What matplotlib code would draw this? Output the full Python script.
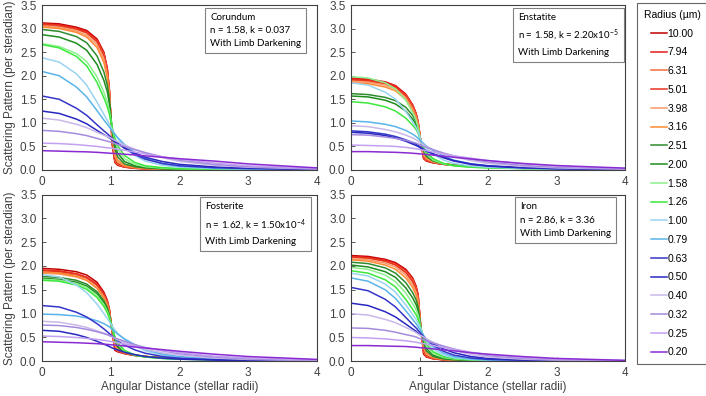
import matplotlib
matplotlib.use("Agg")
import matplotlib.pyplot as plt
from matplotlib.lines import Line2D

plt.rcParams['font.family'] = ['Liberation Sans', 'DejaVu Sans']
plt.rcParams['mathtext.default'] = 'regular'

# sample positions (stellar radii)
x = [0, 0.25, 0.5, 0.65, 0.8, 0.9, 0.95, 0.98, 1.02, 1.06, 1.1, 1.2, 1.35, 1.5, 1.75, 2.0, 2.5, 3.0, 4.0]

radii = ['10.00', '7.94', '6.31', '5.01', '3.98', '3.16', '2.51', '2.00', '1.58',
         '1.26', '1.00', '0.79', '0.63', '0.50', '0.40', '0.32', '0.25', '0.20']
colors = ['#C00000', '#E41A1C', '#F26D3D', '#E8321E', '#F79A6A', '#FF8A33',
          '#2E8B2E', '#1E8C1E', '#8CF08C', '#3CE83C', '#9AD4F0', '#5AB4EA',
          '#3535C8', '#2828C0', '#C9B8E8', '#A58BDD', '#C2A2F0', '#8A2BD2']

corundum = [
    [3.12, 3.10, 3.03, 2.96, 2.78, 2.50, 2.15, 1.70, 0.55, 0.16, 0.10, 0.06, 0.035, 0.025, 0.015, 0.01, 0.006, 0.004, 0.002],
    [3.10, 3.08, 3.01, 2.94, 2.76, 2.48, 2.14, 1.70, 0.58, 0.18, 0.11, 0.065, 0.038, 0.027, 0.016, 0.011, 0.007, 0.004, 0.002],
    [3.07, 3.05, 2.98, 2.91, 2.73, 2.45, 2.11, 1.68, 0.62, 0.20, 0.12, 0.07, 0.04, 0.028, 0.017, 0.012, 0.007, 0.004, 0.002],
    [3.10, 3.07, 3.00, 2.91, 2.72, 2.42, 2.08, 1.66, 0.66, 0.24, 0.14, 0.08, 0.045, 0.03, 0.018, 0.012, 0.007, 0.004, 0.002],
    [3.05, 3.02, 2.95, 2.86, 2.66, 2.36, 2.02, 1.62, 0.72, 0.30, 0.17, 0.09, 0.05, 0.033, 0.02, 0.013, 0.008, 0.005, 0.002],
    [3.03, 3.00, 2.92, 2.82, 2.60, 2.28, 1.95, 1.58, 0.78, 0.36, 0.21, 0.10, 0.055, 0.035, 0.021, 0.014, 0.008, 0.005, 0.002],
    [2.98, 2.94, 2.83, 2.70, 2.42, 2.08, 1.80, 1.50, 0.84, 0.45, 0.28, 0.13, 0.07, 0.045, 0.026, 0.017, 0.01, 0.006, 0.003],
    [2.87, 2.82, 2.69, 2.54, 2.24, 1.90, 1.66, 1.40, 0.88, 0.54, 0.36, 0.18, 0.09, 0.055, 0.03, 0.02, 0.011, 0.007, 0.003],
    [2.68, 2.62, 2.47, 2.30, 1.98, 1.65, 1.44, 1.26, 0.90, 0.63, 0.45, 0.24, 0.12, 0.07, 0.04, 0.025, 0.014, 0.008, 0.004],
    [2.66, 2.59, 2.41, 2.21, 1.86, 1.53, 1.34, 1.18, 0.90, 0.68, 0.52, 0.31, 0.16, 0.09, 0.05, 0.03, 0.016, 0.01, 0.004],
    [2.38, 2.29, 2.04, 1.80, 1.44, 1.18, 1.05, 0.97, 0.86, 0.76, 0.67, 0.49, 0.31, 0.19, 0.10, 0.06, 0.03, 0.018, 0.008],
    [2.09, 2.00, 1.76, 1.55, 1.26, 1.06, 0.97, 0.91, 0.83, 0.76, 0.69, 0.54, 0.37, 0.25, 0.13, 0.08, 0.04, 0.025, 0.01],
    [1.57, 1.50, 1.31, 1.16, 0.96, 0.83, 0.77, 0.73, 0.67, 0.62, 0.57, 0.46, 0.33, 0.23, 0.14, 0.09, 0.05, 0.03, 0.012],
    [1.25, 1.20, 1.08, 0.98, 0.84, 0.75, 0.71, 0.68, 0.64, 0.60, 0.56, 0.47, 0.36, 0.27, 0.18, 0.12, 0.065, 0.04, 0.015],
    [1.10, 1.06, 0.97, 0.90, 0.80, 0.74, 0.71, 0.69, 0.66, 0.63, 0.60, 0.53, 0.44, 0.36, 0.26, 0.18, 0.10, 0.06, 0.02],
    [0.84, 0.82, 0.77, 0.73, 0.67, 0.63, 0.61, 0.60, 0.58, 0.56, 0.54, 0.50, 0.43, 0.37, 0.28, 0.21, 0.12, 0.07, 0.03],
    [0.57, 0.56, 0.54, 0.52, 0.50, 0.48, 0.47, 0.47, 0.46, 0.45, 0.44, 0.42, 0.38, 0.34, 0.28, 0.23, 0.15, 0.09, 0.035],
    [0.41, 0.40, 0.39, 0.385, 0.375, 0.365, 0.36, 0.357, 0.353, 0.35, 0.345, 0.335, 0.32, 0.30, 0.27, 0.24, 0.19, 0.13, 0.045],
]

enstatite = [
    [1.93, 1.91, 1.86, 1.78, 1.60, 1.38, 1.20, 1.02, 0.60, 0.24, 0.19, 0.15, 0.12, 0.10, 0.08, 0.065, 0.045, 0.03, 0.012],
    [1.95, 1.93, 1.87, 1.79, 1.61, 1.38, 1.20, 1.02, 0.60, 0.25, 0.20, 0.155, 0.12, 0.10, 0.08, 0.065, 0.045, 0.03, 0.012],
    [1.90, 1.88, 1.83, 1.75, 1.58, 1.36, 1.18, 1.00, 0.60, 0.27, 0.21, 0.16, 0.125, 0.10, 0.08, 0.065, 0.045, 0.03, 0.012],
    [1.92, 1.90, 1.84, 1.76, 1.57, 1.34, 1.16, 0.98, 0.60, 0.29, 0.22, 0.165, 0.13, 0.105, 0.08, 0.065, 0.045, 0.03, 0.012],
    [1.88, 1.86, 1.80, 1.72, 1.53, 1.30, 1.13, 0.96, 0.60, 0.32, 0.24, 0.17, 0.13, 0.105, 0.08, 0.065, 0.045, 0.03, 0.012],
    [1.85, 1.83, 1.76, 1.68, 1.49, 1.26, 1.10, 0.93, 0.60, 0.36, 0.26, 0.18, 0.135, 0.11, 0.08, 0.065, 0.045, 0.03, 0.012],
    [1.62, 1.60, 1.54, 1.47, 1.33, 1.16, 1.02, 0.88, 0.60, 0.40, 0.29, 0.19, 0.13, 0.10, 0.075, 0.06, 0.04, 0.028, 0.011],
    [1.57, 1.55, 1.48, 1.40, 1.25, 1.08, 0.96, 0.84, 0.60, 0.43, 0.32, 0.20, 0.13, 0.10, 0.07, 0.055, 0.035, 0.025, 0.01],
    [1.98, 1.95, 1.85, 1.72, 1.48, 1.22, 1.06, 0.90, 0.60, 0.44, 0.34, 0.21, 0.13, 0.09, 0.06, 0.045, 0.03, 0.02, 0.008],
    [1.45, 1.42, 1.34, 1.25, 1.10, 0.95, 0.86, 0.78, 0.60, 0.47, 0.37, 0.24, 0.14, 0.09, 0.06, 0.045, 0.03, 0.02, 0.008],
    [1.85, 1.80, 1.65, 1.50, 1.24, 1.02, 0.90, 0.80, 0.64, 0.54, 0.46, 0.33, 0.21, 0.14, 0.085, 0.06, 0.035, 0.02, 0.01],
    [1.04, 1.02, 0.97, 0.92, 0.84, 0.76, 0.71, 0.67, 0.61, 0.56, 0.51, 0.41, 0.30, 0.21, 0.13, 0.09, 0.05, 0.03, 0.012],
    [0.83, 0.81, 0.76, 0.71, 0.64, 0.58, 0.55, 0.52, 0.48, 0.44, 0.41, 0.34, 0.26, 0.19, 0.12, 0.08, 0.045, 0.025, 0.01],
    [0.80, 0.78, 0.73, 0.68, 0.61, 0.55, 0.52, 0.50, 0.46, 0.43, 0.40, 0.34, 0.27, 0.20, 0.13, 0.09, 0.05, 0.03, 0.012],
    [0.94, 0.92, 0.86, 0.81, 0.74, 0.68, 0.64, 0.61, 0.57, 0.53, 0.50, 0.43, 0.35, 0.28, 0.20, 0.14, 0.08, 0.045, 0.018],
    [0.75, 0.74, 0.70, 0.67, 0.63, 0.59, 0.57, 0.55, 0.53, 0.50, 0.48, 0.43, 0.36, 0.30, 0.23, 0.17, 0.10, 0.06, 0.025],
    [0.53, 0.52, 0.51, 0.50, 0.48, 0.46, 0.45, 0.44, 0.43, 0.42, 0.41, 0.38, 0.34, 0.30, 0.25, 0.20, 0.13, 0.08, 0.03],
    [0.39, 0.39, 0.38, 0.375, 0.365, 0.355, 0.35, 0.345, 0.34, 0.335, 0.33, 0.315, 0.295, 0.27, 0.235, 0.20, 0.14, 0.095, 0.04],
]

fosterite = [
    [1.95, 1.93, 1.88, 1.81, 1.66, 1.45, 1.28, 1.10, 0.62, 0.23, 0.20, 0.16, 0.12, 0.10, 0.075, 0.06, 0.04, 0.028, 0.012],
    [1.90, 1.88, 1.83, 1.76, 1.62, 1.42, 1.25, 1.08, 0.63, 0.25, 0.21, 0.165, 0.125, 0.10, 0.075, 0.06, 0.04, 0.028, 0.012],
    [1.88, 1.86, 1.81, 1.74, 1.60, 1.40, 1.24, 1.07, 0.65, 0.27, 0.22, 0.17, 0.13, 0.10, 0.075, 0.06, 0.04, 0.028, 0.012],
    [1.92, 1.90, 1.84, 1.76, 1.60, 1.39, 1.22, 1.05, 0.66, 0.30, 0.23, 0.17, 0.13, 0.10, 0.075, 0.06, 0.04, 0.028, 0.012],
    [1.85, 1.83, 1.77, 1.70, 1.55, 1.35, 1.19, 1.03, 0.67, 0.34, 0.25, 0.18, 0.13, 0.10, 0.075, 0.06, 0.04, 0.028, 0.012],
    [1.87, 1.85, 1.78, 1.70, 1.53, 1.32, 1.16, 1.00, 0.68, 0.38, 0.27, 0.19, 0.135, 0.105, 0.075, 0.06, 0.04, 0.028, 0.012],
    [1.78, 1.76, 1.70, 1.62, 1.46, 1.27, 1.12, 0.98, 0.70, 0.44, 0.30, 0.19, 0.13, 0.10, 0.07, 0.055, 0.035, 0.025, 0.01],
    [1.74, 1.72, 1.66, 1.58, 1.42, 1.23, 1.09, 0.95, 0.70, 0.48, 0.33, 0.20, 0.13, 0.095, 0.065, 0.05, 0.032, 0.022, 0.01],
    [1.72, 1.70, 1.63, 1.55, 1.38, 1.19, 1.05, 0.93, 0.70, 0.50, 0.36, 0.21, 0.13, 0.09, 0.06, 0.045, 0.03, 0.02, 0.008],
    [1.70, 1.68, 1.60, 1.51, 1.34, 1.15, 1.02, 0.90, 0.70, 0.52, 0.39, 0.23, 0.13, 0.09, 0.06, 0.045, 0.03, 0.02, 0.008],
    [1.82, 1.77, 1.60, 1.44, 1.20, 1.00, 0.90, 0.83, 0.74, 0.66, 0.59, 0.46, 0.32, 0.22, 0.13, 0.08, 0.045, 0.025, 0.01],
    [0.99, 0.98, 0.95, 0.91, 0.85, 0.79, 0.75, 0.72, 0.67, 0.62, 0.57, 0.47, 0.35, 0.25, 0.15, 0.10, 0.05, 0.03, 0.012],
    [1.17, 1.14, 1.03, 0.93, 0.79, 0.68, 0.62, 0.58, 0.53, 0.48, 0.43, 0.34, 0.24, 0.17, 0.10, 0.065, 0.035, 0.02, 0.008],
    [0.65, 0.63, 0.56, 0.50, 0.42, 0.36, 0.33, 0.31, 0.28, 0.26, 0.24, 0.19, 0.14, 0.10, 0.065, 0.045, 0.025, 0.015, 0.006],
    [0.84, 0.82, 0.76, 0.71, 0.64, 0.59, 0.56, 0.54, 0.51, 0.48, 0.45, 0.39, 0.32, 0.25, 0.18, 0.13, 0.07, 0.04, 0.015],
    [0.76, 0.75, 0.71, 0.67, 0.62, 0.58, 0.56, 0.54, 0.52, 0.49, 0.47, 0.42, 0.35, 0.29, 0.22, 0.16, 0.09, 0.05, 0.02],
    [0.53, 0.52, 0.50, 0.48, 0.46, 0.44, 0.43, 0.42, 0.41, 0.40, 0.39, 0.36, 0.32, 0.28, 0.23, 0.18, 0.11, 0.07, 0.025],
    [0.41, 0.40, 0.39, 0.38, 0.37, 0.36, 0.355, 0.35, 0.345, 0.34, 0.335, 0.32, 0.30, 0.28, 0.245, 0.21, 0.15, 0.10, 0.04],
]

iron = [
    [2.22, 2.20, 2.14, 2.07, 1.93, 1.75, 1.58, 1.40, 0.70, 0.15, 0.09, 0.05, 0.03, 0.02, 0.012, 0.008, 0.005, 0.003, 0.001],
    [2.20, 2.18, 2.12, 2.05, 1.91, 1.73, 1.56, 1.38, 0.70, 0.17, 0.10, 0.055, 0.032, 0.022, 0.013, 0.009, 0.005, 0.003, 0.001],
    [2.18, 2.16, 2.10, 2.03, 1.88, 1.70, 1.53, 1.35, 0.70, 0.20, 0.11, 0.06, 0.035, 0.023, 0.014, 0.009, 0.005, 0.003, 0.001],
    [2.19, 2.17, 2.10, 2.02, 1.86, 1.67, 1.50, 1.32, 0.70, 0.23, 0.13, 0.065, 0.037, 0.025, 0.015, 0.01, 0.006, 0.003, 0.001],
    [2.15, 2.13, 2.06, 1.98, 1.81, 1.61, 1.45, 1.28, 0.70, 0.28, 0.15, 0.075, 0.04, 0.027, 0.016, 0.01, 0.006, 0.003, 0.001],
    [2.13, 2.10, 2.02, 1.93, 1.75, 1.55, 1.39, 1.22, 0.70, 0.33, 0.18, 0.085, 0.045, 0.03, 0.018, 0.011, 0.006, 0.004, 0.002],
    [2.08, 2.05, 1.96, 1.85, 1.65, 1.44, 1.29, 1.14, 0.70, 0.38, 0.22, 0.10, 0.05, 0.033, 0.02, 0.012, 0.007, 0.004, 0.002],
    [2.02, 1.98, 1.88, 1.76, 1.54, 1.33, 1.19, 1.06, 0.70, 0.43, 0.27, 0.13, 0.065, 0.04, 0.023, 0.014, 0.008, 0.005, 0.002],
    [1.97, 1.93, 1.81, 1.67, 1.43, 1.21, 1.08, 0.97, 0.70, 0.48, 0.32, 0.16, 0.08, 0.05, 0.028, 0.017, 0.009, 0.005, 0.002],
    [1.90, 1.85, 1.71, 1.56, 1.30, 1.09, 0.98, 0.88, 0.68, 0.51, 0.37, 0.20, 0.10, 0.06, 0.033, 0.02, 0.01, 0.006, 0.002],
    [1.85, 1.79, 1.62, 1.45, 1.18, 0.98, 0.88, 0.80, 0.67, 0.54, 0.43, 0.26, 0.13, 0.075, 0.04, 0.024, 0.012, 0.007, 0.003],
    [1.75, 1.68, 1.50, 1.32, 1.06, 0.88, 0.79, 0.72, 0.63, 0.54, 0.46, 0.31, 0.17, 0.10, 0.05, 0.03, 0.015, 0.008, 0.003],
    [1.55, 1.48, 1.30, 1.14, 0.92, 0.77, 0.70, 0.65, 0.58, 0.52, 0.46, 0.34, 0.21, 0.13, 0.07, 0.04, 0.02, 0.01, 0.004],
    [1.22, 1.17, 1.04, 0.93, 0.78, 0.68, 0.63, 0.59, 0.54, 0.50, 0.46, 0.37, 0.26, 0.18, 0.10, 0.06, 0.03, 0.015, 0.005],
    [1.00, 0.97, 0.88, 0.81, 0.71, 0.64, 0.60, 0.57, 0.54, 0.51, 0.47, 0.40, 0.31, 0.23, 0.14, 0.09, 0.045, 0.025, 0.008],
    [0.70, 0.69, 0.65, 0.61, 0.56, 0.53, 0.51, 0.49, 0.47, 0.45, 0.43, 0.38, 0.32, 0.26, 0.18, 0.12, 0.06, 0.035, 0.012],
    [0.50, 0.49, 0.47, 0.45, 0.43, 0.41, 0.40, 0.39, 0.38, 0.37, 0.36, 0.33, 0.29, 0.25, 0.19, 0.14, 0.08, 0.045, 0.015],
    [0.33, 0.33, 0.32, 0.315, 0.31, 0.30, 0.295, 0.29, 0.285, 0.28, 0.275, 0.26, 0.24, 0.22, 0.18, 0.15, 0.10, 0.06, 0.02],
]

panels = [
    (corundum, 'Corundum\nn = 1.58, k = 0.037\nWith Limb Darkening', 0.612),
    (enstatite, 'Enstatite\nn = 1.58, k = 2.20x10$^{-5}$\nWith Limb Darkening', 0.610),
    (fosterite, 'Fosterite\nn = 1.62, k = 1.50x10$^{-4}$\nWith Limb Darkening', 0.592),
    (iron, 'Iron\nn = 2.86, k = 3.36\nWith Limb Darkening', 0.616),
]

W, H = 706, 396
fig = plt.figure(figsize=(W / 100, H / 100), dpi=100)

# axes boxes in pixels: left, right, top, bottom
boxes = [(42, 317, 5, 170), (351, 625, 5, 170), (42, 317, 194.5, 361.3), (351, 625, 194.5, 361.3)]
gray = '#404040'

for i, ((data, note, tx), (l, r, t, b)) in enumerate(zip(panels, boxes)):
    ax = fig.add_axes([l / W, 1 - b / H, (r - l) / W, (b - t) / H])
    for ys, c in zip(data, colors):
        ax.plot(x, ys, color=c, lw=1.1)
    ax.set_xlim(0, 4)
    ax.set_ylim(0, 3.5)
    ax.set_xticks([0, 1, 2, 3, 4])
    ax.set_yticks([0, 0.5, 1.0, 1.5, 2.0, 2.5, 3.0, 3.5])
    ax.set_yticklabels([f'{v:.1f}' for v in ax.get_yticks()])
    ax.tick_params(labelsize=8.5, colors=gray, length=3, width=0.6, direction='in', pad=4)
    for s in ax.spines.values():
        s.set_color(gray)
        s.set_linewidth(0.8)
    if i % 2 == 0:
        ax.set_ylabel('Scattering Pattern (per steradian)', fontsize=8.5, color=gray, labelpad=3)
    if i >= 2:
        ax.set_xlabel('Angular Distance (stellar radii)', fontsize=8.5, color=gray, labelpad=1.5)
    ax.text(tx, 0.953, note, transform=ax.transAxes, ha='left', va='top',
            fontsize=7, family=['Lato', 'DejaVu Sans'], linespacing=1.6,
            bbox=dict(boxstyle='square,pad=0.5', fc='white', ec='#808080', lw=0.8))
    if i == 0:
        handles = [Line2D([], [], color=c, lw=1.1) for c in colors]

leg = fig.legend(handles, radii, loc='upper left', bbox_to_anchor=(637 / W, 1 - 3 / H),
                 title='Radius (\u00b5m)', fontsize=7.5, title_fontsize=7.5,
                 frameon=True, fancybox=False, edgecolor=gray, handlelength=1.5,
                 handletextpad=0.1, labelspacing=0.84, borderpad=0.65, borderaxespad=0)
leg.get_frame().set_linewidth(0.8)

fig.savefig('out.png', dpi=100)
